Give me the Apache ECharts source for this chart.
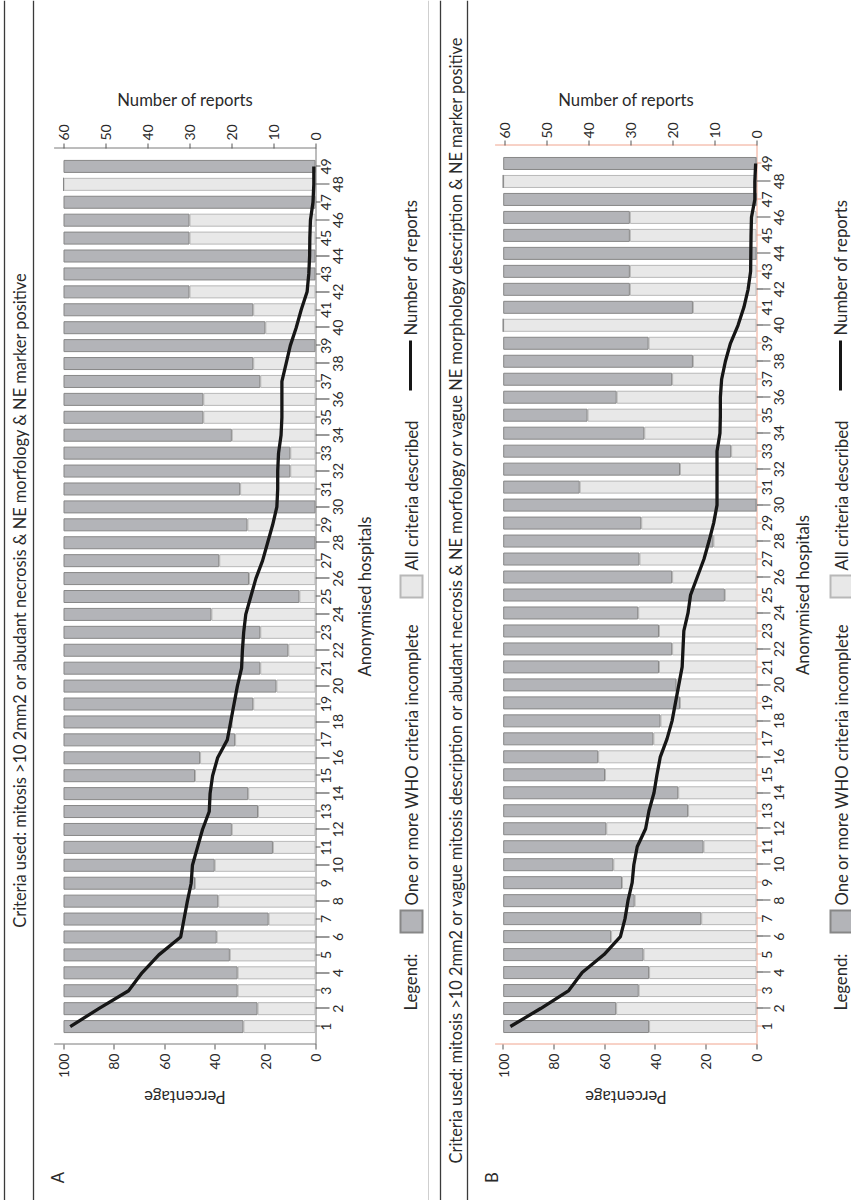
<!DOCTYPE html>
<html>
<head>
<meta charset="utf-8">
<script src="https://cdn.jsdelivr.net/npm/echarts@6/dist/echarts.min.js"></script>
<style>
html, body { margin: 0; padding: 0; width: 851px; height: 1200px; overflow: hidden; background: #ffffff; }
#chart { position: absolute; width: 1200px; height: 851px; left: -174.5px; top: 174.5px; transform: rotate(-90deg); transform-origin: 50% 50%; }
</style>
</head>
<body>
<div id="chart"></div>
<script>
// ---------- data ----------
const hospitals = ['1','2','3','4','5','6','7','8','9','10','11','12','13','14','15','16','17','18','19','20',
  '21','22','23','24','25','26','27','28','29','30','31','32','33','34','35','36','37','38','39','40',
  '41','42','43','44','45','46','47','48','49'];

const percentTicks = ['0','20','40','60','80','100'];
const reportTicks = ['0','10','20','30','40','50','60'];

const titleA = 'Criteria used: mitosis >10 2mm2 or abudant necrosis & NE morfology & NE marker positive';
const titleB = 'Criteria used: mitosis >10 2mm2 or vague mitosis description or abudant necrosis & NE morfology or vague NE morphology description & NE marker positive';

// Panel A (%), hospitals 1..49
const incompleteA = [71.4,77.0,69.1,69.1,66.0,60.8,81.4,61.4,52.2,60.0,83.1,66.8,77.2,73.3,52.2,54.2,68.1,66.8,75.3,84.5,
  78.1,89.2,78.1,58.7,93.6,73.6,61.8,100,73.0,100,70.1,90.0,90.0,66.8,55.5,55.5,78.1,75.3,100,80.1,
  75.3,50,100,100,50,50,100,0,100];
const completeA = [28.6,23.0,30.9,30.9,34.0,39.2,18.6,38.6,47.8,40.0,16.9,33.2,22.8,26.7,47.8,45.8,31.9,33.2,24.7,15.5,
  21.9,10.8,21.9,41.3,6.4,26.4,38.2,0,27.0,0,29.9,10.0,10.0,33.2,44.5,44.5,21.9,24.7,0,19.9,
  24.7,50,0,0,50,50,0,100,0];
const reportsA = [58.4,51.6,44.5,41.3,37.3,32.1,31.3,30.5,29.6,29.3,28.1,26.9,25.3,25.1,24.5,23.3,21.0,20.2,19.4,18.6,
  17.6,17.4,17.1,16.6,15.4,14.2,12.6,11.4,10.2,9.2,9.0,9.0,8.8,8.2,8.0,8.0,8.0,7.0,6.0,4.6,
  3.4,2.0,1.6,1.4,1.35,1.2,0.6,0.4,0.4];

// Panel B (%), hospitals 1..49
const incompleteB = [57.6,44.6,53.5,57.6,55.4,42.6,78.2,51.9,46.9,43.5,79.1,40.7,73.0,69.1,40.2,37.5,59.3,62.1,69.8,68.4,
  61.5,66.7,61.5,53.3,87.5,66.7,53.8,83.0,54.5,100,30.2,69.8,90.0,55.7,33.3,44.8,66.7,74.9,57.4,0,
  74.9,50,50,100,50,50,100,0,100];
const completeB = [42.4,55.4,46.5,42.4,44.6,57.4,21.8,48.1,53.1,56.5,20.9,59.3,27.0,30.9,59.8,62.5,40.7,37.9,30.2,31.6,
  38.5,33.3,38.5,46.7,12.5,33.3,46.2,17.0,45.5,0,69.8,30.2,10.0,44.3,66.7,55.2,33.3,25.1,42.6,100,
  25.1,50,50,0,50,50,0,100,0];
const reportsB = [58.6,51.4,44.7,41.5,36.3,32.4,31.3,30.6,29.6,29.2,28.4,26.4,25.6,24.4,23.7,22.9,21.3,20.1,19.3,18.5,
  17.7,17.5,17.3,16.3,15.7,14.1,12.5,11.3,10.2,9.4,9.4,9.4,9.4,8.7,8.6,8.6,8.3,7.4,6.2,4.4,
  3.0,2.0,1.4,1.35,1.3,1.2,0.4,0.4,0.2];

const NAME_INC = 'One or more WHO criteria incomplete';
const NAME_ALL = 'All criteria described';
const NAME_REP = 'Number of reports';

// ---------- build ----------
const FONT = 'Lato, "Open Sans", sans-serif';
const TXT = '#2a2a2a';
const NAME_SIZE = 16.7;
const cats = [' '].concat(hospitals, ['  ']);
const pad = arr => [null].concat(arr, [null]);
const pctVals = percentTicks.map(Number);
const repVals = reportTicks.map(Number);
const isOdd = i => i >= 1 && i <= hospitals.length && i % 2 === 1;
const isEven = i => i >= 1 && i <= hospitals.length && i % 2 === 0;

function xAxes(gridIndex, lineColor, oddTickColor, nameGap) {
  return [
    { gridIndex, type: 'category', data: cats, boundaryGap: false, position: 'bottom',
      axisLine: { show: true, lineStyle: { color: lineColor, width: 1 } },
      axisTick: { show: true, interval: isOdd, length: 5, lineStyle: { color: oddTickColor, width: 1 } },
      axisLabel: { interval: isOdd, margin: 3, fontSize: 14, color: TXT, fontFamily: FONT },
      splitLine: { show: false },
      name: 'Anonymised hospitals', nameLocation: 'middle', nameGap,
      nameTextStyle: { fontSize: NAME_SIZE, color: TXT, fontFamily: FONT } },
    { gridIndex, type: 'category', data: cats, boundaryGap: false, position: 'bottom',
      axisLine: { show: false },
      axisTick: { show: true, interval: isEven, length: 14, lineStyle: { color: '#555', width: 1.2 } },
      axisLabel: { interval: isEven, margin: 15, fontSize: 14, color: TXT, fontFamily: FONT },
      splitLine: { show: false } }
  ];
}

function yAxes(gridIndex, lineColor, pctMax, repMax, repGap, repMargin) {
  return [
    { gridIndex, type: 'value', position: 'left', min: 0, max: pctMax,
      axisLine: { show: true, lineStyle: { color: lineColor, width: 1 } },
      axisTick: { show: true, customValues: pctVals, length: 5, lineStyle: { color: '#555' } },
      axisLabel: { customValues: pctVals, margin: 9, fontSize: 14, color: TXT, fontFamily: FONT },
      splitLine: { show: false },
      name: 'Percentage', nameLocation: 'middle', nameRotate: 90, nameGap: 38,
      nameTextStyle: { fontSize: NAME_SIZE, color: TXT, fontFamily: FONT } },
    { gridIndex, type: 'value', position: 'right', min: 0, max: repMax,
      axisLine: { show: true, lineStyle: { color: lineColor, width: 1 } },
      axisTick: { show: true, customValues: repVals, length: 5, lineStyle: { color: '#555' } },
      axisLabel: { customValues: repVals, margin: repMargin, fontSize: 14, color: TXT, fontFamily: FONT },
      splitLine: { show: false },
      name: NAME_REP, nameLocation: 'middle', nameRotate: -90, nameGap: repGap,
      nameTextStyle: { fontSize: NAME_SIZE, color: TXT, fontFamily: FONT } }
  ];
}

function panelSeries(xi, yi, stack, complete, incomplete, reports) {
  return [
    { name: NAME_ALL, type: 'bar', xAxisIndex: xi, yAxisIndex: yi, stack, barWidth: 13,
      data: pad(complete),
      itemStyle: { color: '#e8e8e8', borderColor: '#b8b8b8', borderWidth: 1 } },
    { name: NAME_INC, type: 'bar', xAxisIndex: xi, yAxisIndex: yi, stack, barWidth: 13,
      data: pad(incomplete),
      itemStyle: { color: '#b3b4b8', borderColor: '#878787', borderWidth: 1 } },
    { name: NAME_REP, type: 'line', xAxisIndex: xi, yAxisIndex: yi + 1, data: pad(reports),
      symbol: 'none', showSymbol: false, z: 5,
      lineStyle: { color: '#161616', width: 3.3 }, itemStyle: { color: '#161616' } }
  ];
}

function legendItem(name, left, top, w, h) {
  return { data: [{ name, icon: 'rect' }], left, top, padding: 0, orient: 'horizontal',
    itemWidth: w, itemHeight: h, selectedMode: false,
    textStyle: { fontSize: NAME_SIZE, lineHeight: 22, color: TXT, fontFamily: FONT } };
}
function legends(top) {
  return [
    legendItem(NAME_INC, 267, top, 22, 22),
    legendItem(NAME_ALL, 602, top, 22, 22),
    legendItem(NAME_REP, 810, top, 50, 3)
  ];
}

function hline(y, color, w) {
  return { type: 'line', shape: { x1: 0, y1: y, x2: 1200, y2: y }, style: { stroke: color, lineWidth: w }, silent: true };
}
function label(x, y, text, align) {
  return { type: 'text', x, y, silent: true,
    style: { text, fontSize: NAME_SIZE, fontFamily: FONT, fill: TXT, align: align || 'left', verticalAlign: 'middle' } };
}

const SALMON = '#f0a48e';

const option = {
  animation: false,
  backgroundColor: '#ffffff',
  title: [
    { text: titleA, left: 'center', top: 9, padding: 0,
      textStyle: { fontSize: 16.4, lineHeight: 20, fontWeight: 'normal', color: TXT, fontFamily: FONT } },
    { text: titleB, left: 'center', top: 445, padding: 0,
      textStyle: { fontSize: 16.4, lineHeight: 20, fontWeight: 'normal', color: TXT, fontFamily: FONT } }
  ],
  grid: [
    { left: 156, right: 148, top: 54, height: 261 },
    { left: 156, right: 145, top: 495, height: 261 }
  ],
  xAxis: [].concat(xAxes(0, '#7a7a7a', '#555', 41), xAxes(1, SALMON, SALMON, 38)),
  yAxis: [].concat(yAxes(0, '#7a7a7a', 103.57, 62.14, 40, 8), yAxes(1, SALMON, 103.04, 62.14, 37, 7)),
  legend: [].concat(legends(399), legends(829)),
  series: [].concat(
    panelSeries(0, 0, 'A', completeA, incompleteA, reportsA),
    panelSeries(2, 2, 'B', completeB, incompleteB, reportsB)
  ),
  graphic: [
    hline(4, '#3a3a3a', 1.3), hline(33, '#3a3a3a', 1.3),
    hline(428, '#cfcfcf', 1), hline(440, '#3a3a3a', 1.3), hline(467, '#3a3a3a', 1.3),
    label(190, 410, 'Legend:'), label(190, 840, 'Legend:'),
    label(23, 57, 'A', 'center'), label(23, 491, 'B', 'center')
  ]
};

const chart = echarts.init(document.getElementById('chart'), null, { renderer: 'svg' });
chart.setOption(option);
</script>
</body>
</html>
